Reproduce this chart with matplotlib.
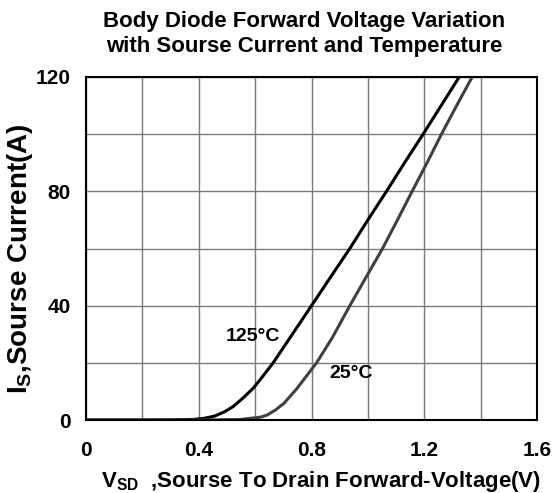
import numpy as np
from matplotlib import pyplot as plt
from matplotlib.ticker import MultipleLocator

plt.rcParams['font.family'] = ['Liberation Sans', 'DejaVu Sans']
plt.rcParams['font.weight'] = 'bold'
plt.rcParams['mathtext.fontset'] = 'custom'
plt.rcParams['mathtext.rm'] = 'Liberation Sans:bold'
plt.rcParams['mathtext.bf'] = 'Liberation Sans:bold'
plt.rcParams['mathtext.default'] = 'bf'

# 讀圖估計的資料點 (V_SD [V], I_S [A])
v_125 = [0.0, 0.20, 0.30, 0.38, 0.42, 0.457, 0.49, 0.522, 0.555, 0.593, 0.625, 0.664,
         0.732, 0.80, 0.865, 0.936, 1.00, 1.066, 1.13, 1.196, 1.26, 1.324]
i_125 = [0.0, 0.0, 0.05, 0.2, 0.6, 1.4, 2.8, 4.7, 7.5, 11.1, 15.0, 20.0,
         30.0, 40.0, 49.6, 60.0, 70.0, 80.0, 90.0, 100.0, 110.0, 120.0]

v_25 = [0.0, 0.30, 0.45, 0.548, 0.62, 0.643, 0.672, 0.702, 0.749, 0.818, 0.875, 0.936,
        0.995, 1.052, 1.105, 1.157, 1.21, 1.261, 1.315, 1.37]
i_25 = [0.0, 0.0, 0.05, 0.2, 1.0, 1.75, 3.5, 5.8, 11.1, 20.0, 29.0, 40.0,
        50.2, 60.0, 70.0, 80.0, 90.0, 100.0, 110.0, 120.0]

x_ticks = [0, 0.4, 0.8, 1.2, 1.6]
x_tick_labels = ['0', '0.4', '0.8', '1.2', '1.6']
y_ticks = [0, 40, 80, 120]

fig = plt.figure(figsize=(5.6, 4.93), dpi=100)
ax = fig.add_axes([86 / 560, 1 - 420 / 493, 451 / 560, 343 / 493])

ax.plot(v_125, i_125, color='black', lw=2.2, solid_capstyle='round')
ax.plot(v_25, i_25, color='#404040', lw=2.2, solid_capstyle='round')

ax.text(0.591, 29.2, '125°C', fontsize=14, fontweight='bold', ha='center', va='center')
ax.text(0.942, 16.1, '25°C', fontsize=14, fontweight='bold', ha='center', va='center')

ax.set_xlim(0, 1.6)
ax.set_ylim(0, 120)
ax.set_xticks(x_ticks)
ax.set_xticklabels(x_tick_labels)
ax.set_yticks(y_ticks)
ax.xaxis.set_minor_locator(MultipleLocator(0.2))
ax.yaxis.set_minor_locator(MultipleLocator(20))
ax.grid(True, which='both', color='#7a7a7a', lw=1.0)
ax.set_axisbelow(True)
ax.tick_params(which='both', length=0, labelsize=15)
ax.tick_params(axis='x', pad=15)
ax.tick_params(axis='y', pad=11)
for lab in ax.get_xticklabels() + ax.get_yticklabels():
    lab.set_fontweight('bold')
for s in ax.spines.values():
    s.set_linewidth(1.5)
    s.set_color('black')

ax.set_xlabel('V$_{SD}$  ,Sourse To Drain Forward-Voltage(V)', fontsize=16,
              fontweight='bold')
ax.xaxis.set_label_coords(0.522, -0.142)
ax.set_ylabel('I$_{S}$,Sourse Current(A)', fontsize=20, fontweight='bold')
ax.yaxis.set_label_coords(-0.113, 0.47)

fig.text(304 / 560, 1 - 11 / 493,
         'Body Diode Forward Voltage Variation\nwith Sourse Current and Temperature',
         fontsize=16, fontweight='bold', ha='center', va='top', linespacing=1.25)

plt.savefig('out.png', dpi=100)
